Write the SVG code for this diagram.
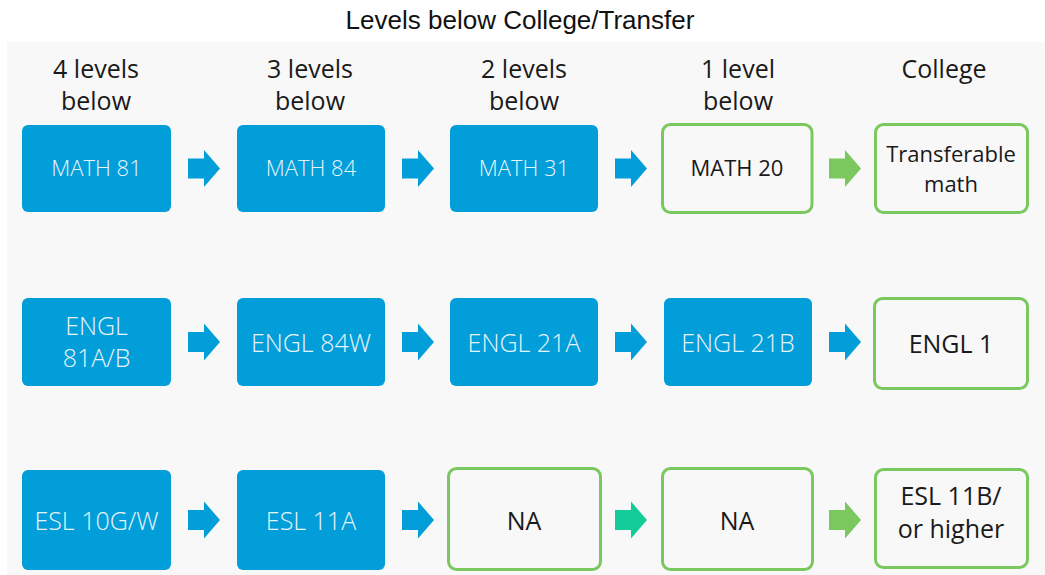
<svg xmlns="http://www.w3.org/2000/svg" xmlns:xlink="http://www.w3.org/1999/xlink" width="1045" height="575" viewBox="0 0 1045 575">
  <style>
    .title { font-family: "Liberation Sans Narrow", "Liberation Sans", Arial, sans-serif; font-size: 26px; fill: #111111; }
    .hdr { font-family: "Open Sans", "Noto Sans", "DejaVu Sans", sans-serif; font-size: 25px; fill: #1a1a1a; text-anchor: middle; }
    .blue { fill: #029ed9; }
    .green { fill: none; stroke: #7ac85e; stroke-width: 3; }
    .lt { font-family: "Open Sans", "Noto Sans", "DejaVu Sans", sans-serif; font-weight: 300; fill: #e8f4fb; text-anchor: middle; }
    .dk { font-family: "Open Sans", "Noto Sans", "DejaVu Sans", sans-serif; fill: #1a1a1a; text-anchor: middle; }
    .s22 { font-size: 22px; }
    .s26 { font-size: 25px; }
    .ab { fill: #029ed9; }
    .ag { fill: #7ac85e; }
    .at { fill: #14cc9a; }
  </style>
  <defs>
    <path id="arr" d="M0,-10 H16 V-18.5 L32,0 L16,18.5 V10 H0 Z"/>
  </defs>

  <rect x="7" y="42" width="1038" height="533" fill="#f8f8f8"/>

  <text class="title" x="520" y="29" text-anchor="middle">Levels below College/Transfer</text>

  <g id="headers">
    <text class="hdr" x="96" y="78">4 levels</text>
    <text class="hdr" x="96" y="110">below</text>
    <text class="hdr" x="310" y="78">3 levels</text>
    <text class="hdr" x="310" y="110">below</text>
    <text class="hdr" x="524" y="78">2 levels</text>
    <text class="hdr" x="524" y="110">below</text>
    <text class="hdr" x="738" y="78">1 level</text>
    <text class="hdr" x="738" y="110">below</text>
    <text class="hdr" x="944" y="78">College</text>
  </g>

  <!-- Row 1 -->
  <g id="math81"><rect class="blue" x="22" y="125" width="149" height="87" rx="6"/><text class="lt s22" x="96.5" y="176">MATH 81</text></g>
  <g id="math84"><rect class="blue" x="237" y="125" width="148" height="87" rx="6"/><text class="lt s22" x="311" y="176">MATH 84</text></g>
  <g id="math31"><rect class="blue" x="450" y="125" width="148" height="87" rx="6"/><text class="lt s22" x="524" y="176">MATH 31</text></g>
  <g id="math20"><rect class="green" x="662.5" y="124.5" width="149.5" height="88" rx="8"/><text class="dk s22" x="737" y="176">MATH 20</text></g>
  <g id="transfer"><rect class="green" x="875.5" y="124.5" width="152" height="88" rx="8"/><text class="dk s22" x="951" y="162">Transferable</text><text class="dk s22" x="951" y="192">math</text></g>

  <!-- Row 2 -->
  <g id="engl81"><rect class="blue" x="22" y="298" width="149" height="88" rx="6"/><text class="lt s26" x="96.5" y="335">ENGL</text><text class="lt s26" x="96.5" y="367">81A/B</text></g>
  <g id="engl84w"><rect class="blue" x="237" y="298" width="148" height="88" rx="6"/><text class="lt s26" x="311" y="352">ENGL 84W</text></g>
  <g id="engl21a"><rect class="blue" x="450" y="298" width="148" height="88" rx="6"/><text class="lt s26" x="524" y="352">ENGL 21A</text></g>
  <g id="engl21b"><rect class="blue" x="664" y="298" width="148" height="88" rx="6"/><text class="lt s26" x="738" y="352">ENGL 21B</text></g>
  <g id="engl1"><rect class="green" x="874.5" y="298.5" width="153" height="90" rx="8"/><text class="dk s26" x="951" y="353">ENGL 1</text></g>

  <!-- Row 3 -->
  <g id="esl10gw"><rect class="blue" x="22" y="470" width="149" height="100" rx="6"/><text class="lt s26" x="96.5" y="530">ESL 10G/W</text></g>
  <g id="esl11a"><rect class="blue" x="237" y="470" width="148" height="100" rx="6"/><text class="lt s26" x="311" y="530">ESL 11A</text></g>
  <g id="na1"><rect class="green" x="448.5" y="468.5" width="152" height="101" rx="8"/><text class="dk s26" x="524" y="530">NA</text></g>
  <g id="na2"><rect class="green" x="662.5" y="468.5" width="150" height="101" rx="8"/><text class="dk s26" x="737" y="530">NA</text></g>
  <g id="esl11b"><rect class="green" x="875.5" y="469.5" width="152" height="98" rx="8"/><text class="dk s26" x="951" y="505">ESL 11B/</text><text class="dk s26" x="951" y="538">or higher</text></g>

  <g id="connectors">
    <use xlink:href="#arr" class="ab" x="188" y="168.5"/>
    <use xlink:href="#arr" class="ab" x="402" y="168.5"/>
    <use xlink:href="#arr" class="ab" x="615" y="168.5"/>
    <use xlink:href="#arr" class="ag" x="829" y="168.5"/>

    <use xlink:href="#arr" class="ab" x="188" y="342"/>
    <use xlink:href="#arr" class="ab" x="402" y="342"/>
    <use xlink:href="#arr" class="ab" x="615" y="342"/>
    <use xlink:href="#arr" class="ab" x="829" y="342"/>

    <use xlink:href="#arr" class="ab" x="188" y="520"/>
    <use xlink:href="#arr" class="ab" x="402" y="520"/>
    <use xlink:href="#arr" class="at" x="615" y="520"/>
    <use xlink:href="#arr" class="ag" x="829" y="520"/>
  </g>
</svg>
